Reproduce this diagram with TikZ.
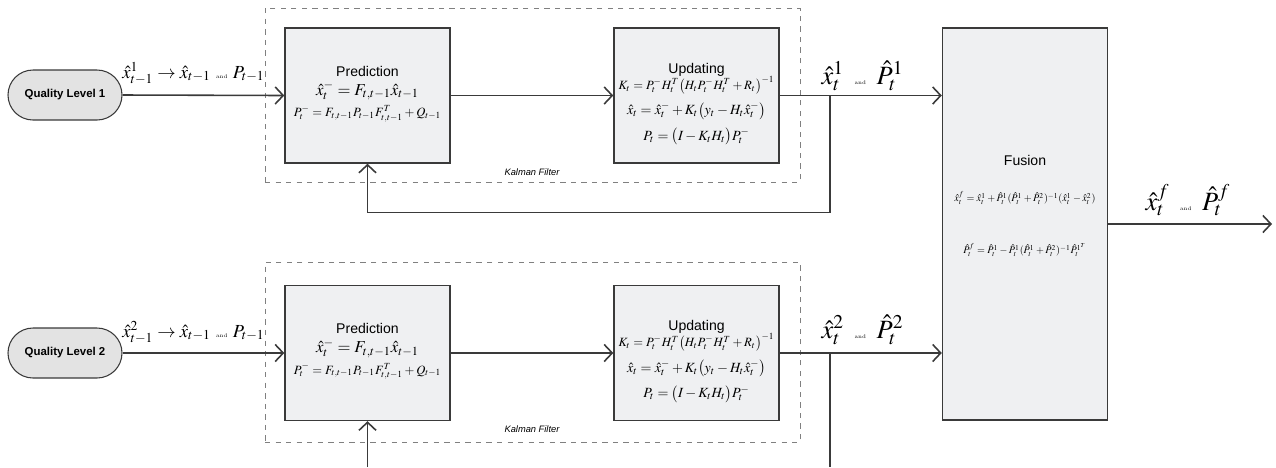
\documentclass[tikz,border=0pt]{standalone}
\usepackage{amsmath}
\usepackage{mathptmx}
\usepackage{fontspec}
\setsansfont{Liberation Sans}
\usepackage{xcolor}
\usetikzlibrary{positioning, arrows.meta}

\definecolor{boxfill}{HTML}{EFF0F2}
\definecolor{pillfill}{HTML}{E3E3E3}
\definecolor{edge}{HTML}{3A3A3A}

\newcommand{\andword}[1]{{\fontsize{3}{3}\selectfont\hspace{#1}and\hspace{#1}}}
\newcommand{\fsz}[1]{\fontsize{#1}{#1}\selectfont}

\begin{document}
\begin{tikzpicture}[
    block/.style={rectangle, draw=edge, fill=boxfill, line width=0.8pt, minimum width=3.3cm, minimum height=2.7cm},
    level/.style={rectangle, rounded corners=0.5cm, draw=edge, fill=pillfill, line width=0.6pt, minimum width=2.28cm, minimum height=1cm, font=\sffamily\bfseries\fontsize{6.5}{8}\selectfont},
    filter/.style={rectangle, draw=gray, dashed, line width=0.5pt},
    signal/.style={-{Straight Barb[length=1.6mm,width=3.4mm]}, line width=0.9pt, draw=edge},
    wire/.style={line width=0.9pt, draw=edge},
    inner/.style={align=center, font=\sffamily\fontsize{8}{9}\selectfont, inner sep=0pt},
    tag/.style={font=\fontsize{10.5}{12}\selectfont, inner sep=1pt},
    bigtag/.style={font=\fontsize{15}{16}\selectfont, inner sep=1pt},
    note/.style={font=\sffamily\itshape\fontsize{5.3}{6}\selectfont, inner sep=0pt}
]
\useasboundingbox (0,0) rectangle (25.52,-9.34);

% row 1
\node[filter, minimum width=10.7cm, minimum height=3.48cm] (kf1) at (10.65,-1.9) {};
\node[note] (kf1lab) at (10.64,-3.44) {Kalman Filter};
\node[level] (ql1) at (1.3,-1.9) {Quality Level 1};
\node[block] (pred1) at (7.35,-1.91) {};
\node[block] (upd1) at (13.93,-1.91) {};
\node[inner] (pred1txt) at (7.35,-1.88) {Prediction\\[2pt]
    {\fsz{9.5}$\hat{x}_t^- = F_{t,t-1}\hat{x}_{t-1}$}\\[3pt]
    {\fsz{7.2}$P_t^- = F_{t,t-1}P_{t-1}F_{t,t-1}^T + Q_{t-1}$}};
\node[inner] (upd1txt) at (13.93,-2.08) {Updating\\[-1pt]
    {\fsz{7.2}$K_t = P_t^- H_t^T\bigl(H_t P_t^- H_t^T + R_t\bigr)^{-1}$}\\[4pt]
    $\hat{x}_t = \hat{x}_t^- + K_t\bigl(y_t - H_t\hat{x}_t^-\bigr)$\\[4pt]
    $P_t = \bigl(I - K_t H_t\bigr)P_t^-$};

% row 2
\node[filter, minimum width=10.7cm, minimum height=3.6cm] (kf2) at (10.65,-7.04) {};
\node[note] (kf2lab) at (10.64,-8.58) {Kalman Filter};
\node[level] (ql2) at (1.3,-7.06) {Quality Level 2};
\node[block] (pred2) at (7.35,-7.06) {};
\node[block] (upd2) at (13.93,-7.06) {};
\node[inner] (pred2txt) at (7.35,-7.03) {Prediction\\[2pt]
    {\fsz{9.5}$\hat{x}_t^- = F_{t,t-1}\hat{x}_{t-1}$}\\[3pt]
    {\fsz{7.2}$P_t^- = F_{t,t-1}P_{t-1}F_{t,t-1}^T + Q_{t-1}$}};
\node[inner] (upd2txt) at (13.93,-7.23) {Updating\\[-1pt]
    {\fsz{7.2}$K_t = P_t^- H_t^T\bigl(H_t P_t^- H_t^T + R_t\bigr)^{-1}$}\\[4pt]
    $\hat{x}_t = \hat{x}_t^- + K_t\bigl(y_t - H_t\hat{x}_t^-\bigr)$\\[4pt]
    $P_t = \bigl(I - K_t H_t\bigr)P_t^-$};

% fusion
\node[block, minimum width=3.3cm, minimum height=7.84cm] (fusion) at (20.5,-4.48) {};
\node[inner] (fusiontxt) at (20.5,-3.2) {Fusion};
\node[inner, font=\fontsize{5.8}{6}\selectfont] (fusionx) at (20.5,-3.96)
    {$\hat{x}_t^f = \hat{x}_t^1 + \hat{P}_t^1(\hat{P}_t^1 + \hat{P}_t^2)^{-1}(\hat{x}_t^1 - \hat{x}_t^2)$};
\node[inner, font=\fontsize{5.8}{6}\selectfont] (fusionp) at (20.5,-5.0)
    {$\hat{P}_t^f = \hat{P}_t^1 - \hat{P}_t^1(\hat{P}_t^1 + \hat{P}_t^2)^{-1}\hat{P}_t^{1^T}$};

% labels
\node[tag] (in1) at (3.87,-1.47) {$\hat{x}_{t-1}^1 \rightarrow \hat{x}_{t-1}$\andword{3pt}$P_{t-1}$};
\node[tag] (in2) at (3.87,-6.65) {$\hat{x}_{t-1}^2 \rightarrow \hat{x}_{t-1}$\andword{3pt}$P_{t-1}$};
\node[bigtag] (out1) at (17.25,-1.52) {$\hat{x}_t^1$\andword{6pt}$\hat{P}_t^1$};
\node[bigtag] (out2) at (17.25,-6.6) {$\hat{x}_t^2$\andword{6pt}$\hat{P}_t^2$};
\node[bigtag] (outf) at (23.76,-4.0) {$\hat{x}_t^f$\andword{6pt}$\hat{P}_t^f$};

\coordinate (br1) at (16.6,-1.91);
\coordinate (fb1) at (16.6,-4.25);
\coordinate (br2) at (16.6,-7.06);
\coordinate (fb2) at (16.6,-9.34);
\coordinate (lp2) at (7.35,-9.34);
\coordinate (end) at (25.44,-4.48);

% connectors
\draw[signal] (ql1.east) -- (pred1.west);
\draw[signal] (pred1.east) -- (upd1.west);
\draw[signal] (upd1.east) -- (upd1.east -| fusion.west);
\draw[wire] (br1) -- (fb1) -- (fb1 -| pred1.south);
\draw[signal] (fb1 -| pred1.south) -- (pred1.south);

\draw[signal] (ql2.east) -- (pred2.west);
\draw[signal] (pred2.east) -- (upd2.west);
\draw[signal] (upd2.east) -- (upd2.east -| fusion.west);
\draw[wire] (br2) -- (fb2);
\draw[signal] (lp2) -- (pred2.south);

\draw[signal] (fusion.east) -- (end);

\end{tikzpicture}
\end{document}
